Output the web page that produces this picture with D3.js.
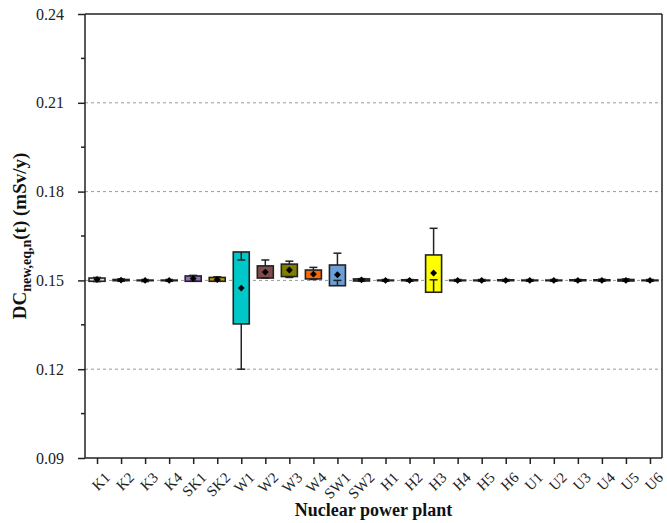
<!DOCTYPE html>
<html><head><meta charset="utf-8">
<script src="https://cdn.jsdelivr.net/npm/d3@7"></script>
<style>body{margin:0;background:#fff}svg{display:block}text{font-family:"Liberation Serif","Times New Roman",serif}</style>
</head><body><svg id="c" width="667" height="523"></svg>
<script>
const categories = ["K1","K2","K3","K4","SK1","SK2","W1","W2","W3","W4","SW1","SW2","H1","H2","H3","H4","H5","H6","U1","U2","U3","U4","U5","U6"];
const boxLow   = [0.1497,0.1499,0.1499,0.1499,0.1497,0.1497,0.1353,0.1508,0.1513,0.1505,0.1482,0.1498,0.1499,0.1499,0.1460,0.1499,0.1499,0.1499,0.1499,0.1499,0.1499,0.1499,0.1498,0.1499];
const boxHigh  = [0.1508,0.1503,0.1501,0.1501,0.1515,0.1510,0.1596,0.1549,0.1555,0.1535,0.1552,0.1505,0.1501,0.1502,0.1586,0.1501,0.1501,0.1502,0.1501,0.1501,0.1502,0.1502,0.1503,0.1501];
const whiskLow = [0.1496,0.1497,0.1496,0.1497,0.1497,0.1497,0.1200,0.1508,0.1510,0.1503,0.1500,0.1497,0.1497,0.1497,0.1502,0.1497,0.1497,0.1497,0.1497,0.1497,0.1497,0.1497,0.1497,0.1497];
const whiskHigh= [0.1510,0.1505,0.1503,0.1503,0.1517,0.1512,0.1569,0.1569,0.1565,0.1544,0.1592,0.1506,0.1503,0.1503,0.1676,0.1503,0.1503,0.1503,0.1503,0.1503,0.1503,0.1504,0.1505,0.1503];
const means    = [0.1503,0.1501,0.1500,0.1500,0.1506,0.1503,0.1474,0.1528,0.1535,0.1521,0.1519,0.1502,0.1500,0.1500,0.1525,0.1500,0.1500,0.1500,0.1500,0.1500,0.1500,0.1500,0.1500,0.1500];
const fills    = ["#dcdcdc","#222","#222","#222","#9966cc","#c09a00","#00c8c8","#804c4c","#808000","#ff6600","#6b9fd6","#2f6b2f","#222","#222","#ffff00","#222","#222","#222","#222","#222","#222","#222","#222","#222"];
const yTicks = [0.09,0.12,0.15,0.18,0.21,0.24];
const yMinor = [0.105,0.135,0.165,0.195,0.225];
const gridVals = [0.12,0.15,0.18,0.21];

const svg = d3.select("#c");
const L=85,R=662,T=14,B=458;
const x = d3.scalePoint().domain(categories).range([L,R]).padding(0.5);
const y = d3.scaleLinear().domain([0.09,0.24]).range([B,T]);
const bw = 16;

svg.append("g").selectAll("line").data(gridVals).join("line")
  .attr("x1",L).attr("x2",R).attr("y1",d=>y(d)).attr("y2",d=>y(d))
  .attr("stroke","#999").attr("stroke-width",1).attr("stroke-dasharray","3,3");

const g = svg.append("g");
categories.forEach((c,i)=>{
  const cx = x(c);
  g.append("line").attr("x1",cx).attr("x2",cx).attr("y1",y(boxHigh[i])).attr("y2",y(whiskHigh[i])).attr("stroke","#222").attr("stroke-width",1.5);
  g.append("line").attr("x1",cx).attr("x2",cx).attr("y1",y(boxLow[i])).attr("y2",y(whiskLow[i])).attr("stroke","#222").attr("stroke-width",1.5);
  g.append("rect").attr("x",cx-bw/2).attr("y",y(boxHigh[i])).attr("width",bw)
    .attr("height",Math.max(0.5,y(boxLow[i])-y(boxHigh[i])))
    .attr("fill",fills[i]).attr("stroke","#222").attr("stroke-width",1.6);
  if (whiskHigh[i] < boxHigh[i]) g.append("line").attr("x1",cx).attr("x2",cx).attr("y1",y(boxHigh[i])).attr("y2",y(whiskHigh[i])).attr("stroke","#222").attr("stroke-width",1.5);
  if (whiskLow[i] > boxLow[i]) g.append("line").attr("x1",cx).attr("x2",cx).attr("y1",y(boxLow[i])).attr("y2",y(whiskLow[i])).attr("stroke","#222").attr("stroke-width",1.5);
  [whiskHigh[i],whiskLow[i]].forEach(v=>{
    g.append("line").attr("x1",cx-4).attr("x2",cx+4).attr("y1",y(v)).attr("y2",y(v)).attr("stroke","#222").attr("stroke-width",1.5);
  });
  g.append("path").attr("d",d3.symbol(d3.symbolDiamond2,30)()).attr("transform",`translate(${cx},${y(means[i])})`).attr("fill","#000");
});

svg.append("line").attr("x1",L).attr("x2",R).attr("y1",T).attr("y2",T).attr("stroke","#222").attr("stroke-width",1.5);
svg.append("line").attr("x1",R).attr("x2",R).attr("y1",T).attr("y2",B).attr("stroke","#222").attr("stroke-width",1.5);

const ya = svg.append("g").attr("transform",`translate(${L},0)`)
  .call(d3.axisLeft(y).tickValues(yTicks).tickFormat(d3.format(".2f")).tickSize(7).tickPadding(14));
ya.selectAll("text").attr("font-size",16).attr("fill","#222");
ya.selectAll("line,path").attr("stroke","#222").attr("stroke-width",1.5);
ya.select("path").attr("d",`M0,${T}V${B}`);
svg.append("g").selectAll("line").data(yMinor).join("line")
  .attr("x1",L-4).attr("x2",L).attr("y1",d=>y(d)).attr("y2",d=>y(d)).attr("stroke","#222").attr("stroke-width",1.5);

const xa = svg.append("g").attr("transform",`translate(0,${B})`)
  .call(d3.axisBottom(x).tickSize(6).tickPadding(3));
xa.selectAll("line,path").attr("stroke","#222").attr("stroke-width",1.5);
xa.select("path").attr("d",`M${L},0H${R}`);
xa.selectAll("text").attr("font-size",15).attr("fill","#222")
  .attr("text-anchor","end").attr("dy","0.3em")
  .attr("transform","translate(4,11) rotate(-45)");

svg.append("text").attr("x",(L+R)/2).attr("y",516).attr("text-anchor","middle")
  .attr("font-size",18).attr("font-weight","bold").attr("fill","#111").text("Nuclear power plant");
const yt = svg.append("text").attr("transform",`translate(26,${(T+B)/2}) rotate(-90)`)
  .attr("text-anchor","middle").attr("font-size",19).attr("font-weight","bold").attr("fill","#111");
yt.append("tspan").text("DC");
yt.append("tspan").attr("font-size",14).attr("dy",5).text("new,eq,n");
yt.append("tspan").attr("dy",-5).text("(t) (mSv/y)");
</script></body></html>
